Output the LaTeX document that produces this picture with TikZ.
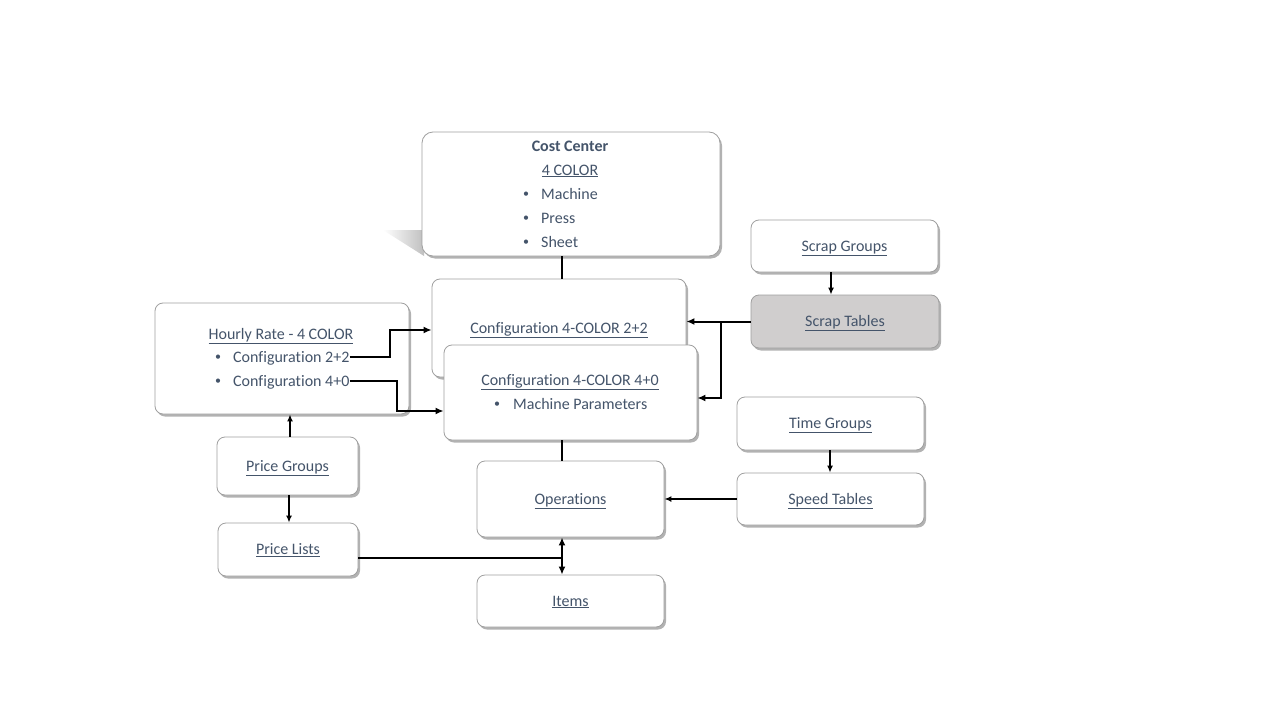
\documentclass[tikz,border=0pt]{standalone}
\usepackage{fontspec}
\setmainfont{Carlito}[Ligatures=NoCommon]
\usetikzlibrary{shadows,arrows.meta}
\definecolor{txtblue}{HTML}{44546A}
\definecolor{scrapgray}{HTML}{D0CECE}
\tikzset{
  box/.style={draw=gray!75, fill=white, rounded corners=8pt, line width=0.8pt,
    drop shadow={shadow xshift=2pt, shadow yshift=-2.5pt, opacity=0.3, fill=black},
    inner sep=0pt, text=txtblue, font=\fontsize{16}{19}\selectfont,
    text height=10.5pt, text depth=0.5pt},
  lbl/.style={text=txtblue, inner sep=0pt, font=\fontsize{16}{19}\selectfont,
    text height=10.5pt, text depth=0.5pt},
  dot/.style={lbl, font=\fontsize{12}{14}\selectfont, text height=7pt, text depth=0pt},
  link/.style={line width=2pt, -{Latex[length=8pt,width=7pt]}},
  thin link/.style={line width=1.4pt, -{Latex[length=7pt,width=6pt]}},
}
\begin{document}
\begin{tikzpicture}[x=1pt,y=-1pt]
    \useasboundingbox[fill=white] (0,0) rectangle (1280,720);
    % cost center with its slanted shadow
    \shade[left color=white, right color=gray!50] (383,230) -- (424,230) -- (424,256) -- cycle;
    \node[box, rounded corners=11pt, minimum width=298pt, minimum height=124pt] (cost) at (571,194) {};
    \node[lbl, font=\fontsize{16}{19}\selectfont\bfseries] (costtitle) at (570,146) {Cost Center};
    \node[lbl] (costsub) at (570,170) {\underline{4 COLOR}};
    \node[dot] (cb1) at (526,194) {•};
    \node[lbl, anchor=west] (mach) at (541,194) {Machine};
    \node[dot] (cb2) at (526,218) {•};
    \node[lbl, anchor=west] (press) at (541,218) {Press};
    \node[dot] (cb3) at (526,242) {•};
    \node[lbl, anchor=west] (sheet) at (541,242) {Sheet};

    % scrap
    \node[box, minimum width=187pt, minimum height=52pt] (sgrp) at (844.5,246) {\underline{Scrap Groups}};
    \node[box, fill=scrapgray, minimum width=188pt, minimum height=53pt] (stab) at (845,321.5) {\underline{Scrap Tables}};

    % configurations
    \node[box, minimum width=254pt, minimum height=98pt] (c22) at (559,328) {\underline{Configuration 4-COLOR 2+2}};
    \node[box, minimum width=253pt, minimum height=95pt] (c40) at (570.5,392.5) {};
    \node[lbl] (c40title) at (570,380) {\underline{Configuration 4-COLOR 4+0}};
    \node[dot] (c40b) at (497,404) {•};
    \node[lbl, anchor=west] (mparam) at (513,404) {Machine Parameters};

    % hourly rate
    \node[box, minimum width=254pt, minimum height=111pt] (hour) at (282,358.5) {};
    \node[lbl] (hourtitle) at (281,334) {\underline{Hourly Rate - 4 COLOR}};
    \node[dot] (hb1) at (218,357) {•};
    \node[lbl, anchor=west] (h22) at (233,357) {Configuration 2+2};
    \node[dot] (hb2) at (218,381) {•};
    \node[lbl, anchor=west] (h40) at (233,381) {Configuration 4+0};

    % price, operations, items, time
    \node[box, minimum width=141pt, minimum height=58pt] (pgrp) at (287.5,466) {\underline{Price Groups}};
    \node[box, minimum width=140pt, minimum height=53pt] (plist) at (288,549.5) {\underline{Price Lists}};
    \node[box, minimum width=187pt, minimum height=76pt] (ops) at (570.5,499) {\underline{Operations}};
    \node[box, minimum width=187pt, minimum height=52pt] (items) at (570.5,601) {\underline{Items}};
    \node[box, minimum width=187pt, minimum height=53pt] (tgrp) at (830.5,423.5) {\underline{Time Groups}};
    \node[box, minimum width=187pt, minimum height=52pt] (spd) at (830.5,499) {\underline{Speed Tables}};

    % connectors
    \draw[line width=2pt] ([xshift=-9pt]cost.south) -- ([xshift=-9pt]cost.south |- c22.north);
    \draw[line width=2pt] ([xshift=-8.5pt]c40.south) -- ([xshift=-8.5pt]c40.south |- ops.north);
    \draw[thin link] ([xshift=-13.5pt]sgrp.south) -- ([xshift=-13.5pt]sgrp.south |- stab.north);
    \draw[link] (stab.west) -- (stab.west -| c22.east);
    \draw[link] ([xshift=-30pt]stab.west) |- ([yshift=-5.5pt]c40.east);
    \draw[link] (h22.east) -- ++(40,0) |- ([yshift=-2pt]c22.west);
    \draw[link] (h40.east) -- ++(47,0) |- ([yshift=-18.5pt]c40.west);
    \draw[thin link] ([xshift=2.5pt]pgrp.north) -- ([xshift=2.5pt]pgrp.north |- hour.south);
    \draw[thin link] ([xshift=1.5pt]pgrp.south) -- ([xshift=1.5pt]pgrp.south |- plist.north);
    \coordinate (jn) at (562,558);
    \draw[line width=2pt] ([yshift=-8.5pt]plist.east) -- (jn);
    \draw[line width=2pt, {Latex[length=8pt,width=7pt]}-{Latex[length=8pt,width=7pt]}] (jn |- ops.south) -- (jn |- items.north);
    \draw[thin link] (spd.west) -- (ops.east);
    \draw[thin link] ([xshift=-0.5pt]tgrp.south) -- ([xshift=-0.5pt]tgrp.south |- spd.north);
\end{tikzpicture}
\end{document}
